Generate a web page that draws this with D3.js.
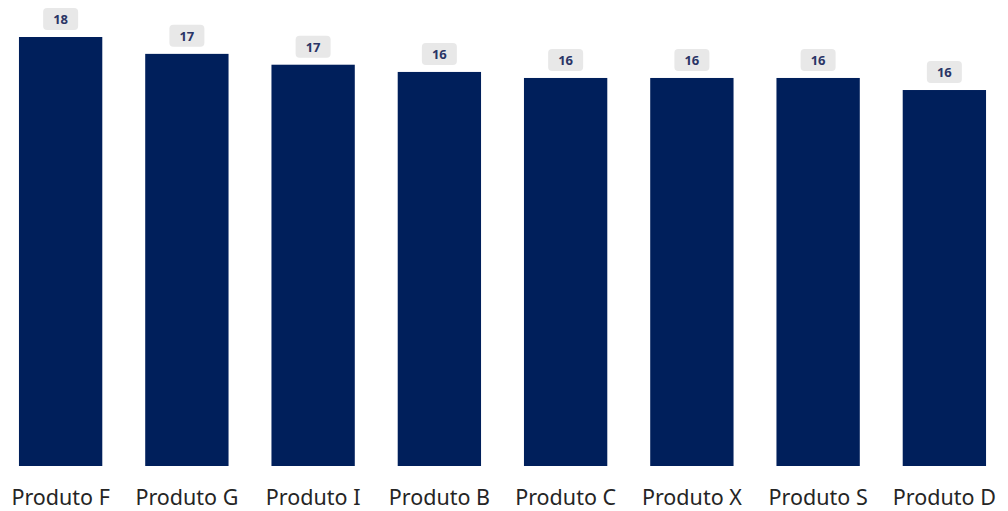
<!DOCTYPE html>
<html>
<head>
<meta charset="utf-8">
<script src="https://cdn.jsdelivr.net/npm/d3@7"></script>
<style>
  body { margin: 0; background: #fff; }
  svg { display: block; }
</style>
</head>
<body>
<svg width="1008" height="511"></svg>
<script>
var categories = ["Produto F", "Produto G", "Produto I", "Produto B", "Produto C", "Produto X", "Produto S", "Produto D"];
var values = [17.8, 17.1, 16.65, 16.35, 16.1, 16.1, 16.1, 15.6];
var labels = ["18", "17", "17", "16", "16", "16", "16", "16"];

window.onload = function () {
    var svg = d3.select("svg");

    var x = d3.scaleBand()
        .domain(categories)
        .range([-2.5, 1007.5])
        .paddingInner(0.34)
        .paddingOuter(0.17);

    var y = d3.scaleLinear()
        .domain([0, 17.8])
        .range([466, 37]);

    var g = svg.selectAll("g.bar")
        .data(categories)
        .enter()
        .append("g")
        .attr("class", "bar");

    g.append("rect")
        .attr("x", function (d) { return x(d); })
        .attr("y", function (d, i) { return y(values[i]); })
        .attr("width", x.bandwidth())
        .attr("height", function (d, i) { return y(0) - y(values[i]); })
        .style("fill", "#001f5b");

    // value badges
    g.append("rect")
        .attr("x", function (d) { return x(d) + x.bandwidth() / 2 - 17.5; })
        .attr("y", function (d, i) { return y(values[i]) - 29; })
        .attr("width", 35)
        .attr("height", 22)
        .attr("rx", 4)
        .style("fill", "#e8e8e8");

    g.append("text")
        .attr("x", function (d) { return x(d) + x.bandwidth() / 2; })
        .attr("y", function (d, i) { return y(values[i]) - 13; })
        .attr("text-anchor", "middle")
        .style("font-family", "'Open Sans', sans-serif")
        .style("font-size", "13px")
        .style("font-weight", "bold")
        .style("fill", "#2a3566")
        .text(function (d, i) { return labels[i]; });

    g.append("text")
        .attr("x", function (d) { return x(d) + x.bandwidth() / 2; })
        .attr("y", 505)
        .attr("text-anchor", "middle")
        .style("font-family", "'Noto Sans', sans-serif")
        .style("font-size", "21.5px")
        .style("fill", "#252525")
        .text(function (d) { return d; });
}
</script>
</body>
</html>
